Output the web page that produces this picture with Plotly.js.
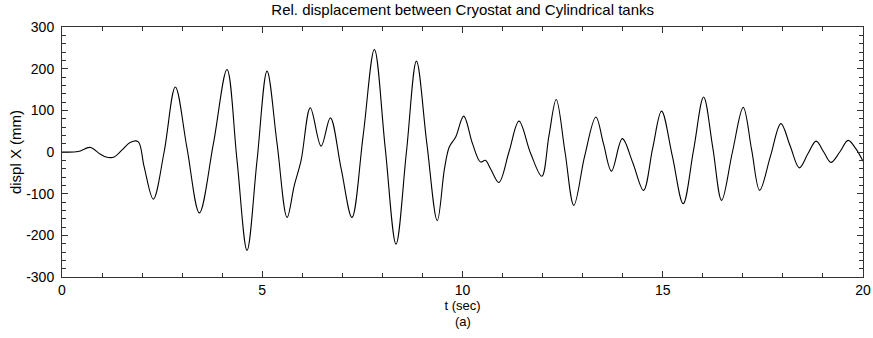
<!DOCTYPE html>
<html>
<head>
<meta charset="utf-8">
<script src="https://cdn.plot.ly/plotly-3.0.1.min.js"></script>
<style>html,body{margin:0;padding:0;background:#fff;}</style>
</head>
<body>
<div id="chart" style="width:873px;height:338px;"></div>
<script>
const timeSec = [0, 0.4, 0.7, 0.95, 1.1, 1.3, 1.5, 1.7, 1.9, 2.05, 2.28, 2.55, 2.83, 3.12, 3.43, 3.78, 4.12, 4.37, 4.62, 4.87, 5.12, 5.37, 5.62, 5.8, 5.97, 6.2, 6.47, 6.7, 6.97, 7.24, 7.52, 7.8, 8.07, 8.34, 8.6, 8.85, 9.11, 9.37, 9.55, 9.67, 9.83, 10.03, 10.25, 10.45, 10.57, 10.7, 10.91, 11.16, 11.41, 11.7, 11.98, 12.16, 12.34, 12.56, 12.78, 13.05, 13.33, 13.52, 13.72, 13.99, 14.25, 14.52, 14.75, 14.97, 15.24, 15.51, 15.77, 16.02, 16.25, 16.47, 16.74, 17.01, 17.22, 17.42, 17.69, 17.95, 18.18, 18.41, 18.62, 18.83, 19.02, 19.2, 19.42, 19.63, 19.82, 20];
const displX = [0, 1, 11, -5, -12, -12, 5, 23, 25, -35, -113, 0, 156, 10, -146, 20, 198, -20, -236, -20, 194, 20, -157, -80, -20, 106, 14, 82, -40, -157, 40, 246, 10, -221, 0, 218, 20, -165, -40, 12, 36, 86, 20, -24, -20, -40, -73, 0, 74, -3, -58, 40, 126, 0, -128, -10, 84, 20, -46, 32, -25, -92, 10, 98, -10, -124, 5, 132, 10, -116, 0, 107, 5, -92, -10, 68, 15, -38, -5, 26, 0, -25, 0, 28, 8, -22];
const xTicks = [0, 5, 10, 15, 20];
const yTicks = [-300, -200, -100, 0, 100, 200, 300];
const subLabel = '(a)';

const FONT = 'Liberation Sans, Arial, sans-serif';
const axisCommon = {
  showgrid: false, zeroline: false, showline: true, linecolor: '#333', linewidth: 1,
  mirror: 'ticks', ticks: 'inside', ticklen: 6, tickcolor: '#333', tickwidth: 1,
  tickfont: {family: FONT, size: 14, color: '#000'},
  tickmode: 'array'
};

Plotly.newPlot('chart', [{
  x: timeSec, y: displX, type: 'scatter', mode: 'lines',
  line: {color: '#000', width: 1.1, shape: 'spline', smoothing: 1},
  hoverinfo: 'none'
}], {
  width: 873, height: 338,
  margin: {l: 62, r: 10, t: 27, b: 61},
  paper_bgcolor: '#fff', plot_bgcolor: '#fff',
  showlegend: false,
  title: {text: 'Rel. displacement between Cryostat and Cylindrical tanks',
    font: {family: FONT, size: 15, color: '#000'},
    x: 0.53, xanchor: 'center', y: 0.97, yanchor: 'middle'},
  xaxis: Object.assign({}, axisCommon, {
    range: [0, 20], tickvals: xTicks, ticktext: xTicks.map(String),
    minor: {tickvals: [1,2,3,4,6,7,8,9,11,12,13,14,16,17,18,19], ticks: 'inside', ticklen: 4, tickcolor: '#333'},
    title: {text: 't (sec)', standoff: 0,
      font: {family: FONT, size: 13, color: '#000'}}
  }),
  yaxis: Object.assign({}, axisCommon, {
    range: [-300, 300], tickvals: yTicks, ticktext: yTicks.map(String),
    ticklabelstandoff: 4,
    minor: {dtick: 20, ticks: 'inside', ticklen: 4, tickcolor: '#333'},
    title: {text: 'displ X (mm)', standoff: 0,
      font: {family: FONT, size: 15, color: '#000'}}
  }),
  annotations: [{
    text: subLabel, xref: 'paper', yref: 'paper', x: 0.5, xanchor: 'center',
    y: -0.176, yanchor: 'middle', showarrow: false,
    font: {family: FONT, size: 13, color: '#000'}
  }]
}, {staticPlot: true});
</script>
</body>
</html>
